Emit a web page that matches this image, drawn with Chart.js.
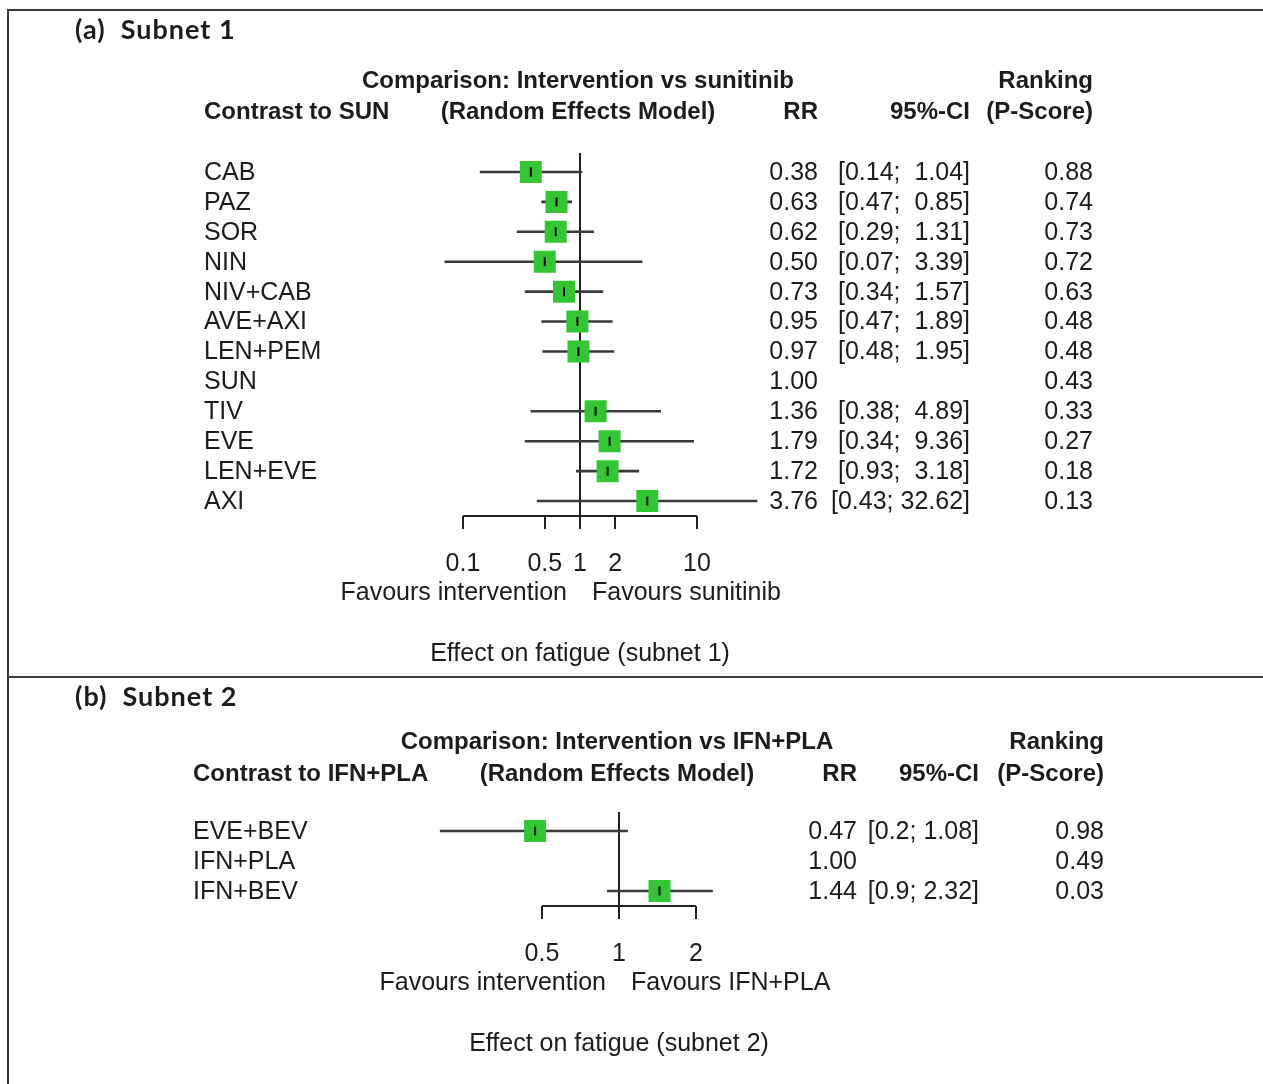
<!DOCTYPE html>
<html>
<head>
<meta charset="utf-8">
<title>Effect on fatigue</title>
<script src="https://cdn.jsdelivr.net/npm/chart.js@4.4.1/dist/chart.umd.min.js"></script>
<style>
  html, body { margin: 0; padding: 0; background: #fff; }
  body { width: 1263px; height: 1084px; position: relative; overflow: hidden; }
  .frame { position: absolute; left: 7px; top: 9px; width: 1300px; height: 1100px;
           border-left: 2px solid #3a3a3a; border-top: 2px solid #3a3a3a; box-sizing: border-box; }
  .divider { position: absolute; left: 7px; top: 676px; width: 1300px; height: 2px; background: #3a3a3a; }
  canvas { position: absolute; left: 0; }
  #subnet1 { top: 11px; }
  #subnet2 { top: 678px; }
</style>
</head>
<body>
<div class="frame"></div>
<div class="divider"></div>
<canvas id="subnet1" width="1263" height="665"></canvas>
<canvas id="subnet2" width="1263" height="406"></canvas>

<script>
// ---- Subnet 1 (contrast to sunitinib) ----
const treatments1 = ["CAB", "PAZ", "SOR", "NIN", "NIV+CAB", "AVE+AXI", "LEN+PEM", "SUN", "TIV", "EVE", "LEN+EVE", "AXI"];
const rr1 = [0.38, 0.63, 0.62, 0.50, 0.73, 0.95, 0.97, 1.00, 1.36, 1.79, 1.72, 3.76];
const lower1 = [0.14, 0.47, 0.29, 0.07, 0.34, 0.47, 0.48, null, 0.38, 0.34, 0.93, 0.43];
const upper1 = [1.04, 0.85, 1.31, 3.39, 1.57, 1.89, 1.95, null, 4.89, 9.36, 3.18, 32.62];
const pscore1 = [0.88, 0.74, 0.73, 0.72, 0.63, 0.48, 0.48, 0.43, 0.33, 0.27, 0.18, 0.13];
const ticks1 = [0.1, 0.5, 1, 2, 10];

// ---- Subnet 2 (contrast to IFN+PLA) ----
const treatments2 = ["EVE+BEV", "IFN+PLA", "IFN+BEV"];
const rr2 = [0.47, 1.00, 1.44];
const lower2 = [0.2, null, 0.9];
const upper2 = [1.08, null, 2.32];
const pscore2 = [0.98, 0.49, 0.03];
const ticks2 = [0.5, 1, 2];

const FONT = "\"Liberation Sans\", Arial, sans-serif";
const TEXT = "#1c1c1c";
const BOX = 22;

function makeForestPlugin(p) {
  return {
    id: "forest_" + p.key,
    beforeDatasetsDraw(chart) {
      const { ctx, chartArea } = chart;
      const xs = chart.scales.x;
      const x1 = Math.round(xs.getPixelForValue(1));
      const yAxis = Math.round(chartArea.bottom);
      ctx.save();
      ctx.strokeStyle = "#222";
      ctx.lineWidth = 2;
      // line of no effect
      ctx.beginPath();
      ctx.moveTo(x1, chartArea.top - 4);
      ctx.lineTo(x1, yAxis + 13);
      ctx.stroke();
      // axis bracket
      const tx = p.ticks.map(t => Math.round(xs.getPixelForValue(t)));
      ctx.beginPath();
      ctx.moveTo(tx[0], yAxis);
      ctx.lineTo(tx[tx.length - 1], yAxis);
      tx.forEach(x => { ctx.moveTo(x, yAxis); ctx.lineTo(x, yAxis + 13); });
      ctx.stroke();
      ctx.restore();
    },
    afterDatasetsDraw(chart) {
      const { ctx, chartArea } = chart;
      const xs = chart.scales.x;
      const ys = chart.scales.y;
      const x1 = xs.getPixelForValue(1);
      ctx.save();
      ctx.fillStyle = TEXT;
      ctx.textBaseline = "middle";

      // panel title
      ctx.font = "bold 27px Lato, \"Open Sans\", sans-serif";
      ctx.letterSpacing = "1px";
      ctx.textAlign = "left";
      ctx.fillText(p.title, 75, 19);
      ctx.letterSpacing = "0px";

      // column headers
      ctx.font = "bold 24px " + FONT;
      const h1 = chartArea.top + p.head1;
      const h2 = chartArea.top + p.head2;
      ctx.textAlign = "center";
      ctx.fillText(p.comparison, x1 - 2, h1);
      ctx.fillText("(Random Effects Model)", x1 - 2, h2);
      ctx.textAlign = "left";
      ctx.fillText(p.contrast, p.labelX, h2);
      ctx.textAlign = "right";
      ctx.fillText("RR", p.rrX, h2);
      ctx.fillText("95%-CI", p.ciX, h2);
      ctx.fillText("(P-Score)", p.rankX, h2);
      ctx.fillText("Ranking", p.rankX, h1);

      // rows
      ctx.font = "25px " + FONT;
      p.names.forEach((name, i) => {
        const y = ys.getPixelForValue(i) + 1;
        ctx.textAlign = "left";
        ctx.fillText(name, p.labelX, y);
        ctx.textAlign = "right";
        ctx.fillText(p.rr[i].toFixed(2), p.rrX, y);
        if (p.lower[i] != null) ctx.fillText(p.ciText(p.lower[i], p.upper[i]), p.ciX, y);
        ctx.fillText(p.pscore[i].toFixed(2), p.rankX, y);
      });

      // tick labels and axis captions
      const yb = chartArea.bottom;
      ctx.textAlign = "center";
      p.ticks.forEach(t => ctx.fillText(String(t), xs.getPixelForValue(t), yb + 48));
      ctx.textAlign = "right";
      ctx.fillText("Favours intervention", x1 - 13, yb + 77);
      ctx.textAlign = "left";
      ctx.fillText(p.favoursRight, x1 + 12, yb + 77);
      ctx.textAlign = "center";
      ctx.fillText(p.xTitle, x1, yb + 138);
      ctx.restore();
    }
  };
}

function drawForest(canvasId, p) {
  const w = 1263;
  const padLeft = p.refX + p.perDecade * Math.log10(p.xMin);
  const padRight = w - (p.refX + p.perDecade * Math.log10(p.xMax));
  const withCI = p.names.map((n, i) => i).filter(i => p.lower[i] != null);

  return new Chart(document.getElementById(canvasId), {
    type: "bar",
    data: {
      labels: p.names,
      datasets: [
        {
          type: "bar",
          data: p.lower.map((lo, i) => (lo == null ? null : [lo, p.upper[i]])),
          backgroundColor: "#3a3a3a",
          borderWidth: 0,
          barThickness: 2,
          order: 3
        },
        {
          type: "scatter",
          data: withCI.map(i => ({ x: p.rr[i], y: p.names[i] })),
          pointStyle: "rect",
          pointRadius: BOX / Math.SQRT2,
          backgroundColor: "#33c633",
          borderWidth: 0,
          order: 2
        },
        {
          type: "scatter",
          data: withCI.map(i => ({ x: p.rr[i], y: p.names[i] })),
          pointStyle: "line",
          rotation: 90,
          pointRadius: 4.5,
          borderColor: "#000",
          borderWidth: 2,
          order: 1
        }
      ]
    },
    options: {
      responsive: false,
      animation: false,
      events: [],
      indexAxis: "y",
      layout: { padding: { left: padLeft, right: padRight, top: p.top, bottom: p.bottom } },
      plugins: { legend: { display: false }, tooltip: { enabled: false } },
      scales: {
        x: { type: "logarithmic", min: p.xMin, max: p.xMax, display: false },
        y: { type: "category", offset: true, display: false, grid: { display: false } }
      }
    },
    plugins: [makeForestPlugin(p)]
  });
}

drawForest("subnet1", {
  key: "s1",
  title: "(a)  Subnet 1",
  comparison: "Comparison: Intervention vs sunitinib",
  contrast: "Contrast to SUN",
  favoursRight: "Favours sunitinib",
  xTitle: "Effect on fatigue (subnet 1)",
  names: treatments1, rr: rr1, lower: lower1, upper: upper1, pscore: pscore1, ticks: ticks1,
  ciText: (lo, hi) => "[" + lo.toFixed(2) + "; " + hi.toFixed(2).padStart(5, " ") + "]",
  refX: 580, perDecade: 117, xMin: 0.05, xMax: 40,
  top: 146, bottom: 160, head1: -76, head2: -45,
  labelX: 204, rrX: 818, ciX: 970, rankX: 1093
});

drawForest("subnet2", {
  key: "s2",
  title: "(b)  Subnet 2",
  comparison: "Comparison: Intervention vs IFN+PLA",
  contrast: "Contrast to IFN+PLA",
  favoursRight: "Favours IFN+PLA",
  xTitle: "Effect on fatigue (subnet 2)",
  names: treatments2, rr: rr2, lower: lower2, upper: upper2, pscore: pscore2, ticks: ticks2,
  ciText: (lo, hi) => "[" + lo + "; " + hi + "]",
  refX: 619, perDecade: 255.8, xMin: 0.15, xMax: 3,
  top: 138, bottom: 178, head1: -74, head2: -42,
  labelX: 193, rrX: 857, ciX: 979, rankX: 1104
});
</script>
</body>
</html>
